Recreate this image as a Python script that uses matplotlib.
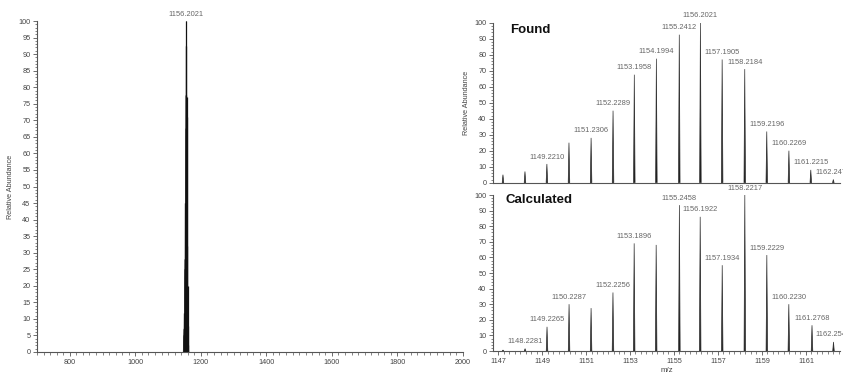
import matplotlib
matplotlib.use("Agg")
import matplotlib.pyplot as plt
from matplotlib.ticker import MultipleLocator

plt.rcParams['font.family'] = ['Liberation Sans', 'DejaVu Sans']

# Observed isotope cluster (m/z, relative abundance)
found_mz = [1147.2230, 1148.2240, 1149.2210, 1150.2250, 1151.2306, 1152.2289,
            1153.1958, 1154.1994, 1155.2412, 1156.2021, 1157.1905, 1158.2184,
            1159.2196, 1160.2269, 1161.2215, 1162.2470]
found_int = [5, 7, 11.7, 25, 28, 45, 67.5, 77.5, 92.5, 100, 77, 71,
             32, 20, 8, 2]
found_labeled = [False, False, True, False, True, True, True, True, True, True,
                 True, True, True, True, True, True]

# Simulated isotope pattern
calc_mz = [1147.2250, 1148.2281, 1149.2265, 1150.2287, 1151.2300, 1152.2256,
           1153.1896, 1154.1900, 1155.2458, 1156.1922, 1157.1934, 1158.2217,
           1159.2229, 1160.2230, 1161.2768, 1162.2541]
calc_int = [0.6, 1.5, 15.5, 30, 27.5, 37.5, 69, 68, 93.5, 86, 55, 100,
            61.5, 30, 16.5, 5.8]
calc_labeled = [False, True, True, True, False, True, True, False, True, True,
                True, True, True, True, True, True]

# Full-range spectrum: base peak label
full_base_mz = 1156.2021

TICK_COLOR = '#444444'
LABEL_COLOR = '#666666'
FS_TICK = 5.2
FS_PEAK = 5.4

fig = plt.figure(figsize=(8.43, 3.74), dpi=100)


def style_axes(ax):
    for s in ('top', 'right'):
        ax.spines[s].set_visible(False)
    for s in ('left', 'bottom'):
        ax.spines[s].set_color('#555555')
        ax.spines[s].set_linewidth(0.8)
    ax.tick_params(which='major', direction='out', length=3.2, width=0.6,
                   colors='#555555', labelcolor=TICK_COLOR, labelsize=FS_TICK, pad=1.5)
    ax.tick_params(which='minor', direction='out', length=1.8, width=0.5,
                   colors='#555555')


def draw_peaks(ax, mz, inten, half_width, lw=0.35):
    for x, h in zip(mz, inten):
        ax.fill([x - half_width, x, x + half_width], [0, h, 0],
                color='#1a1a1a', lw=lw, ec='#333333')


def label_peaks(ax, mz, inten, labeled, dy):
    for x, h, lab in zip(mz, inten, labeled):
        if lab:
            ax.annotate(f"{x:.4f}", (x, h), xytext=(0, dy), textcoords='offset points',
                        ha='center', va='bottom', fontsize=FS_PEAK, color=LABEL_COLOR,
                        annotation_clip=False)


# ---- Left: full m/z range ----
axL = fig.add_axes([37 / 843, 22 / 374, 426 / 843, 331 / 374])
style_axes(axL)
axL.vlines(found_mz, 0, found_int, color='#111111', lw=0.9)
draw_peaks(axL, found_mz, found_int, 1.2)
axL.set_xlim(700, 2000)
axL.set_ylim(0, 100)
axL.xaxis.set_minor_locator(MultipleLocator(20))
axL.yaxis.set_major_locator(MultipleLocator(5))
axL.yaxis.set_minor_locator(MultipleLocator(1))
axL.set_xticks(range(800, 2001, 200))
axL.set_ylabel('Relative Abundance', fontsize=FS_TICK, color=TICK_COLOR, labelpad=3)
axL.annotate(f"{full_base_mz:.4f}", (full_base_mz, 100), xytext=(0, 2),
             textcoords='offset points', ha='center', va='bottom',
             fontsize=FS_PEAK, color=LABEL_COLOR, annotation_clip=False)

xlim_r = (1146.77, 1162.55)

# ---- Right top: found ----
axT = fig.add_axes([493 / 843, (374 - 182.7) / 374, 347 / 843, 160 / 374])
style_axes(axT)
draw_peaks(axT, found_mz, found_int, 0.035, lw=0.5)
label_peaks(axT, found_mz, found_int, found_labeled, 2.5)
axT.set_xlim(*xlim_r)
axT.set_ylim(0, 100)
axT.yaxis.set_major_locator(MultipleLocator(10))
axT.yaxis.set_minor_locator(MultipleLocator(2))
axT.set_xticks([])
axT.set_ylabel('Relative Abundance', fontsize=FS_TICK, color=TICK_COLOR, labelpad=3)
axT.text(0.05, 0.955, 'Found', transform=axT.transAxes, fontsize=9.5,
         fontweight='bold', color='#111111', ha='left', va='center')

# ---- Right bottom: calculated ----
axB = fig.add_axes([493 / 843, 23 / 374, 347 / 843, 156 / 374])
style_axes(axB)
draw_peaks(axB, calc_mz, calc_int, 0.035, lw=0.5)
label_peaks(axB, calc_mz, calc_int, calc_labeled, 2.5)
axB.set_xlim(*xlim_r)
axB.set_ylim(0, 100)
axB.yaxis.set_major_locator(MultipleLocator(10))
axB.yaxis.set_minor_locator(MultipleLocator(2))
axB.set_xticks(range(1147, 1162, 2))
axB.xaxis.set_minor_locator(MultipleLocator(0.25))
axB.set_xlabel('m/z', fontsize=FS_TICK + 0.4, color=TICK_COLOR, labelpad=2)
axB.text(0.035, 0.965, 'Calculated', transform=axB.transAxes, fontsize=9.5,
         fontweight='bold', color='#111111', ha='left', va='center')

fig.savefig('out.png', dpi=100)
